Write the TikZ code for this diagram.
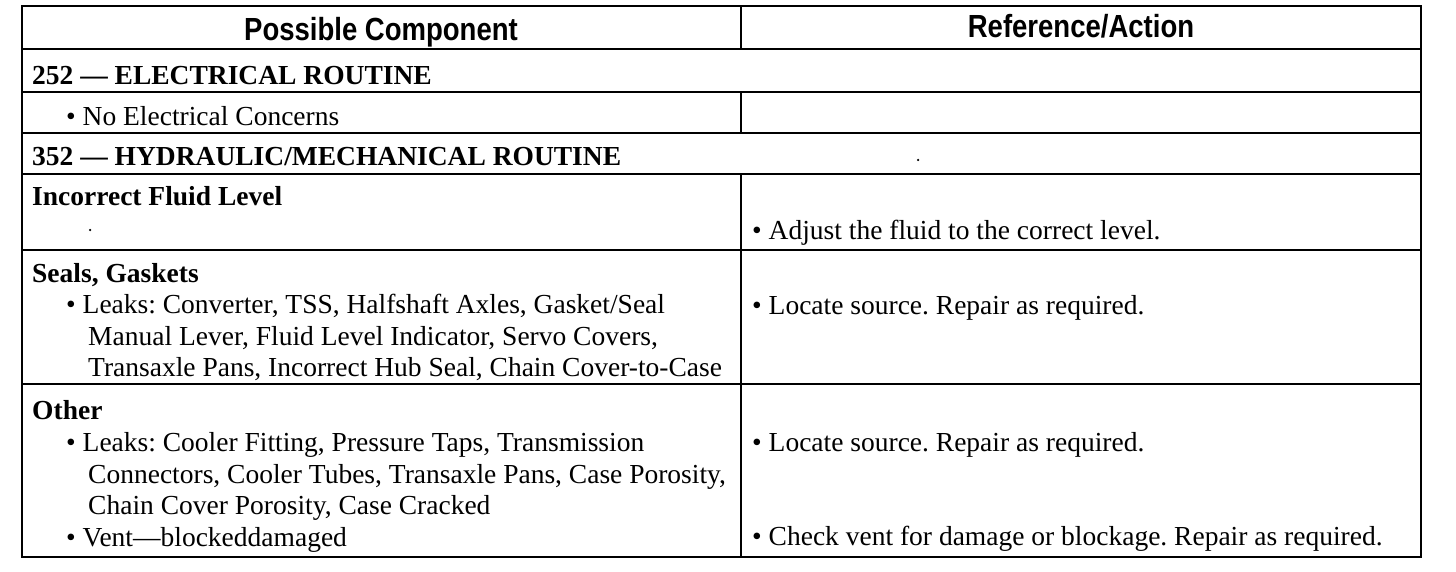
\documentclass[tikz,border=0pt]{standalone}
\usepackage{fontspec}
\setmainfont{Liberation Serif}
\newfontfamily\hsans{Liberation Sans}
\usepackage{graphicx}
\frenchspacing
\tikzset{
  rule/.style={line width=2.3pt, line cap=rect},
  body/.style={anchor=base west, inner sep=0pt, font=\fontsize{27.5}{31}\selectfont\frenchspacing},
  sect/.style={anchor=base west, inner sep=0pt, font=\fontsize{27.5}{31}\selectfont\bfseries\frenchspacing},
  colhead/.style={anchor=base, inner sep=0pt, font=\fontsize{32}{36}\hsans\bfseries},
  speck/.style={fill=black, inner sep=0pt, minimum size=2.5pt, circle},
}
\begin{document}
\begin{tikzpicture}[x=1pt,y=-1pt]
\useasboundingbox (0,0) rectangle (1456,572);
% frame and rules
\draw[rule] (22,6) rectangle (1421,557);
\foreach \yy in {49,92,133,174,250,384}{\draw[rule] (22,\yy) -- (1421,\yy);}
\draw[rule] (741,6) -- (741,49);
\draw[rule] (741,92) -- (741,133);
\draw[rule] (741,174) -- (741,557);
% column heads
\node[colhead] (h1) at (381,41) {\scalebox{0.86}[1]{Possible Component}};
\node[colhead] (h2) at (1081,38) {\scalebox{0.86}[1]{Reference/Action}};
% section 252
\node[sect] (s252) at (32,85) {252 — ELECTRICAL ROUTINE};
\node[body] (ne) at (66,126) {\textbullet\ No Electrical Concerns};
% section 352
\node[sect] (s352) at (32,166) {352 — HYDRAULIC/MECHANICAL ROUTINE};
\node[speck] (dot1) at (918,160) {};
% incorrect fluid level
\node[sect] (ifl) at (32,206) {Incorrect Fluid Level};
\node[speck] (dot2) at (90,230) {};
\node[body] (adj) at (752,240) {\textbullet\ Adjust the fluid to the correct level.};
% seals, gaskets
\node[sect] (sg) at (32,282) {Seals, Gaskets};
\node[body] (sg1) at (66,313) {\textbullet\ Leaks: Converter, TSS, Halfshaft Axles, Gasket/Seal};
\node[body] (sg2) at (88,345) {Manual Lever, Fluid Level Indicator, Servo Covers,};
\node[body] (sg3) at (88,376) {Transaxle Pans, Incorrect Hub Seal, Chain Cover-to-Case};
\node[body] (loc1) at (752,314) {\textbullet\ Locate source. Repair as required.};
% other
\node[sect] (oth) at (32,419) {Other};
\node[body] (ot1) at (66,451) {\textbullet\ Leaks: Cooler Fitting, Pressure Taps, Transmission};
\node[body] (ot2) at (88,483) {Connectors, Cooler Tubes, Transaxle Pans, Case Porosity,};
\node[body] (ot3) at (88,514) {Chain Cover Porosity, Case Cracked};
\node[body] (ot4) at (66,546) {\textbullet\ Vent—blockeddamaged};
\node[body] (loc2) at (752,451) {\textbullet\ Locate source. Repair as required.};
\node[body] (chk) at (752,545) {\textbullet\ Check vent for damage or blockage. Repair as required.};
\end{tikzpicture}
\end{document}
